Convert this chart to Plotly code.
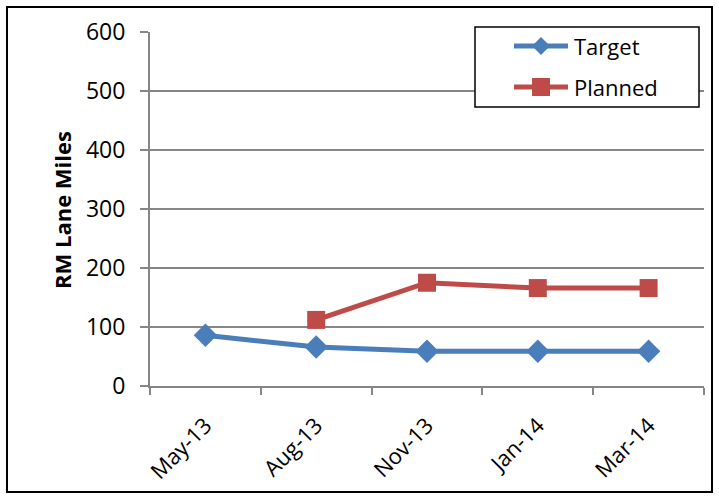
import plotly.graph_objects as go

months = ["May-13", "Aug-13", "Nov-13", "Jan-14", "Mar-14"]
target = [86, 66, 59, 59, 59]
planned = [None, 112, 175, 166, 166]
y_ticks = [0, 100, 200, 300, 400, 500, 600]

series_names = ["Target", "Planned"]
series_colors = ["#4a7ebb", "#be4b48"]

W, H = 719, 499
L, R, T, B = 150, 15, 32, 113
FONT = "'Open Sans', sans-serif"
AXIS_GRAY = "#868686"

pw, ph = W - L - R, H - T - B


def px(x):
    """pixel x -> paper x"""
    return (x - L) / pw


def py(y):
    """pixel y (from top) -> paper y"""
    return (H - B - y) / ph


fig = go.Figure()
fig.add_trace(go.Scatter(
    x=months, y=target, name=series_names[0], mode="lines+markers",
    line=dict(color=series_colors[0], width=5),
    marker=dict(symbol="diamond", size=18, color=series_colors[0]),
))
fig.add_trace(go.Scatter(
    x=months, y=planned, name=series_names[1], mode="lines+markers",
    line=dict(color=series_colors[1], width=5),
    marker=dict(symbol="square", size=18, color=series_colors[1]),
))

shapes = []
# outer frame around the chart
shapes.append(dict(type="rect", xref="paper", yref="paper",
                   x0=px(7), x1=px(712), y0=py(492), y1=py(7),
                   line=dict(color="black", width=2), fillcolor="rgba(0,0,0,0)",
                   layer="above"))

# legend box
shapes.append(dict(type="rect", xref="paper", yref="paper",
                   x0=px(475), x1=px(699), y0=py(107), y1=py(27),
                   line=dict(color="black", width=1.5), fillcolor="white",
                   layer="above"))

annotations = []
rows = [46, 87]
for name, color, ry, sym in zip(series_names, series_colors, rows, ["diamond", "square"]):
    shapes.append(dict(type="line", xref="paper", yref="paper",
                       x0=px(514), x1=px(568), y0=py(ry), y1=py(ry),
                       line=dict(color=color, width=5), layer="above"))
    cx = 541
    if sym == "diamond":
        d = 9
        path = (f"M {px(cx - d)} {py(ry)} L {px(cx)} {py(ry - d)} "
                f"L {px(cx + d)} {py(ry)} L {px(cx)} {py(ry + d)} Z")
        shapes.append(dict(type="path", xref="paper", yref="paper", path=path,
                           fillcolor=color, line=dict(color=color, width=0),
                           layer="above"))
    else:
        s = 9
        shapes.append(dict(type="rect", xref="paper", yref="paper",
                           x0=px(cx - s), x1=px(cx + s), y0=py(ry + s), y1=py(ry - s),
                           fillcolor=color, line=dict(color=color, width=0),
                           layer="above"))
    annotations.append(dict(text=name, xref="paper", yref="paper",
                            x=px(572), y=py(ry), xanchor="left", yanchor="middle",
                            showarrow=False, font=dict(size=22, family=FONT, color="black")))

# y-axis title
annotations.append(dict(text="<b>RM Lane Miles</b>", xref="paper", yref="paper",
                        x=px(62), y=py(210), xanchor="center", yanchor="middle",
                        textangle=-90, showarrow=False,
                        font=dict(size=22, family=FONT, color="black")))

fig.update_layout(
    width=W, height=H,
    margin=dict(l=L, r=R, t=T, b=B),
    paper_bgcolor="white", plot_bgcolor="white",
    font=dict(family=FONT, color="black", size=22),
    showlegend=False,
    shapes=shapes,
    annotations=annotations,
    xaxis=dict(
        type="category", tickson="boundaries", range=[-0.5, 4.5],
        showgrid=False, showline=True, linecolor=AXIS_GRAY, linewidth=2,
        ticks="outside", ticklen=7, tickcolor=AXIS_GRAY, tickwidth=2,
        tickangle=-45, tickfont=dict(size=22), zeroline=False,
        ticklabelstandoff=16,
    ),
    yaxis=dict(
        range=[0, 600], tickvals=y_ticks, showgrid=True, gridcolor=AXIS_GRAY,
        gridwidth=2, showline=True, linecolor=AXIS_GRAY, linewidth=2,
        ticks="outside", ticklen=8, tickcolor=AXIS_GRAY, tickwidth=2,
        zeroline=False, tickfont=dict(size=23), ticklabelstandoff=10,
    ),
)

fig.write_html("out.html")
